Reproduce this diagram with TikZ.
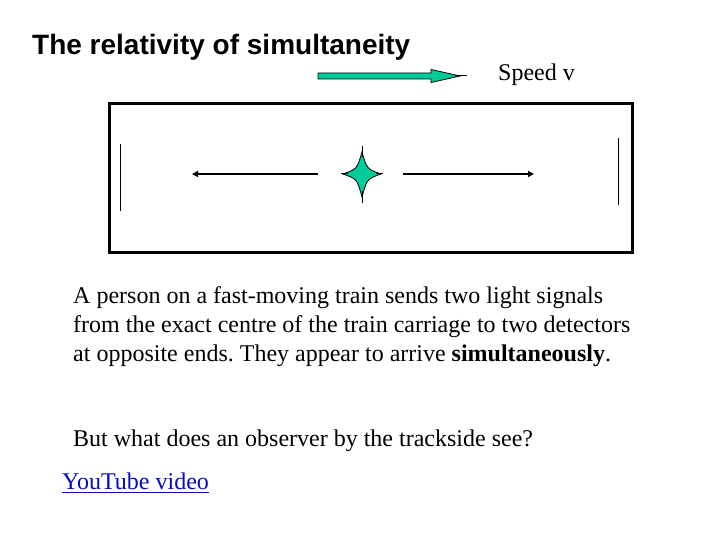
\documentclass[tikz,border=0pt]{standalone}
\usepackage{fontspec}
\setmainfont{Liberation Serif}
\newfontfamily\arialfont{Liberation Sans}
\usetikzlibrary{arrows.meta}
\definecolor{tealfill}{RGB}{0,204,153}
\definecolor{linkblue}{RGB}{10,10,190}
\frenchspacing
\tikzset{
  txt/.style={inner sep=0pt, anchor=base west, font=\fontsize{24}{29}\selectfont},
  sig/.style={line width=2pt, -{Triangle[length=6pt,width=6pt]}},
  detector/.style={line width=1.2pt},
}
\begin{document}
\begin{tikzpicture}[x=1pt,y=-1pt]
\useasboundingbox (0,0) rectangle (720,540);
% title
\node[txt, font=\arialfont\bfseries\fontsize{28}{34}\selectfont] (title) at (32,55) {The relativity of simultaneity};
% speed arrow
\draw[fill=tealfill, line width=0.8pt, line join=miter]
  (318,73) -- (431,73) -- (431,69.5) -- (460,76) -- (431,82.5) -- (431,79) -- (318,79) -- cycle;
\draw[line width=1pt] (455,76) -- (467,76);
\node[txt] (speed) at (498,81) {Speed v};
% train carriage
\node[draw, line width=3pt, minimum width=523pt, minimum height=149pt, inner sep=0pt, anchor=north west] (train) at (108,102) {};
% detectors
\coordinate (dl1) at (120.5,144);
\coordinate (dl2) at (120.5,211);
\coordinate (dr1) at (618.5,138);
\coordinate (dr2) at (618.5,205);
\draw[detector] (dl1) -- (dl2);
\draw[detector] (dr1) -- (dr2);
% star (light source)
\coordinate (c) at (362,174);
\begin{scope}[shift={(c)}]
\draw[fill=tealfill, line width=0.8pt]
  (0,-22) .. controls (5,-5) .. (19,0) .. controls (5,5) .. (0,23)
  .. controls (-5,5) .. (-19,0) .. controls (-5,-5) .. cycle;
\draw[line width=1pt] (0,-28) -- (0,-17) (0,17) -- (0,29) (-21,0) -- (-14,0) (14,0) -- (21,0);
\end{scope}
% light signals
\coordinate (ls) at (318,174);
\coordinate (le) at (192,174);
\coordinate (rs) at (403,174);
\coordinate (re) at (534,174);
\draw[sig] (ls) -- (le);
\draw[sig] (rs) -- (re);
% text
\node[txt] (p1) at (73,303) {A person on a fast-moving train sends two light signals};
\node[txt] (p2) at (73,332) {from the exact centre of the train carriage to two detectors};
\node[txt] (p3) at (73,361) {at opposite ends. They appear to arrive \textbf{simultaneously}.};
\node[txt] (q) at (73,446) {But what does an observer by the trackside see?};
\node[txt, text=linkblue] (yt) at (62,489) {YouTube video};
\draw[linkblue, line width=1.5pt] ([yshift=-3.5pt]yt.base west) -- ([yshift=-3.5pt]yt.base east);
\end{tikzpicture}
\end{document}
